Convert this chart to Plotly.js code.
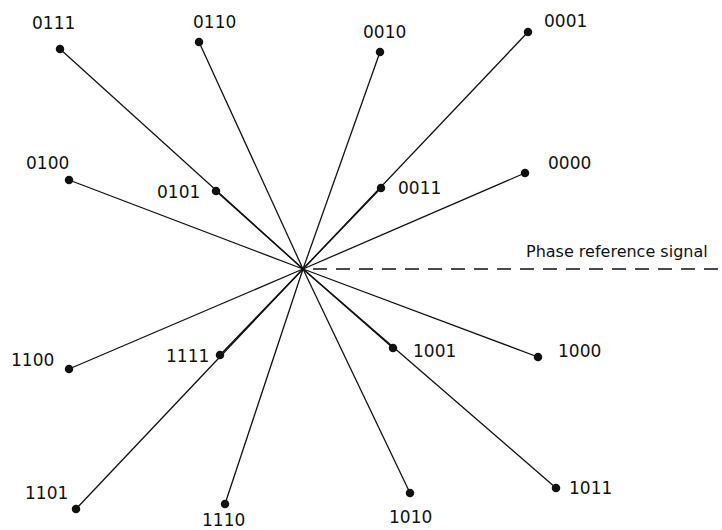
<!DOCTYPE html>
<html>
<head>
<meta charset="utf-8">
<script src="https://cdn.plot.ly/plotly-3.0.1.min.js"></script>
<style>
  html, body { margin: 0; padding: 0; background: #fff; }
  #chart { width: 722px; height: 530px; }
</style>
</head>
<body>
<div id="chart"></div>
<script>
// 16-point constellation, coordinates relative to the origin (y up)
const codes = ['0111', '0110', '0010', '0001', '0100', '0101', '0011', '0000',
               '1100', '1111', '1001', '1000', '1101', '1110', '1010', '1011'];
const xs = [-243, -104, 77, 225, -234, -87, 78, 222,
            -234, -83, 90, 235, -227, -78, 107, 253];
const ys = [220, 227, 217, 237, 89, 78, 81, 96,
            -100, -86, -79, -88, -240, -235, -224, -219];

// label placement (pixels from the dot, screen y down) -- style only
const labelShift = [[-7, -26], [15, -20], [4, -20], [37, -11], [-22, -17], [-38, 1], [38, 0], [44, -10],
                    [-37, -9], [-33, 1], [41, 3], [41, -6], [-30, -16], [-2, 16], [0, 24], [34, 0]];

const INK = '#111';
const FONT = { family: 'DejaVu Sans, sans-serif', size: 17, color: INK };

// spokes from origin to every point, separated by nulls
const spokeX = [];
const spokeY = [];
xs.forEach((x, i) => {
  spokeX.push(0, x, null);
  spokeY.push(0, ys[i], null);
});

const traces = [
  {
    x: spokeX, y: spokeY, mode: 'lines', hoverinfo: 'skip',
    line: { color: INK, width: 1.3 },
  },
  {
    x: xs, y: ys, mode: 'markers', text: codes, hoverinfo: 'text',
    marker: { color: INK, size: 8.5 },
  },
];

const annotations = codes.map((c, i) => ({
  x: xs[i], y: ys[i], text: c, showarrow: false,
  xshift: labelShift[i][0], yshift: -labelShift[i][1],
  font: FONT,
}));
annotations.push({
  x: 1, xref: 'paper', xanchor: 'right', xshift: -12,
  y: 0, yanchor: 'bottom', yshift: 6,
  text: 'Phase reference signal', showarrow: false,
  font: { ...FONT, size: 16 },
});

const layout = {
  width: 722, height: 530,
  margin: { l: 0, r: 0, t: 0, b: 0 },
  paper_bgcolor: '#fff', plot_bgcolor: '#fff',
  showlegend: false,
  xaxis: { range: [-303, 419], visible: false, fixedrange: true },
  yaxis: { range: [-261, 269], visible: false, fixedrange: true },
  shapes: [{
    type: 'line', x0: 10, x1: 419, y0: 0, y1: 0,
    line: { color: INK, width: 1.3, dash: '14px,9px' },
  }],
  annotations,
};

Plotly.newPlot('chart', traces, layout, { displayModeBar: false, staticPlot: true });
</script>
</body>
</html>
